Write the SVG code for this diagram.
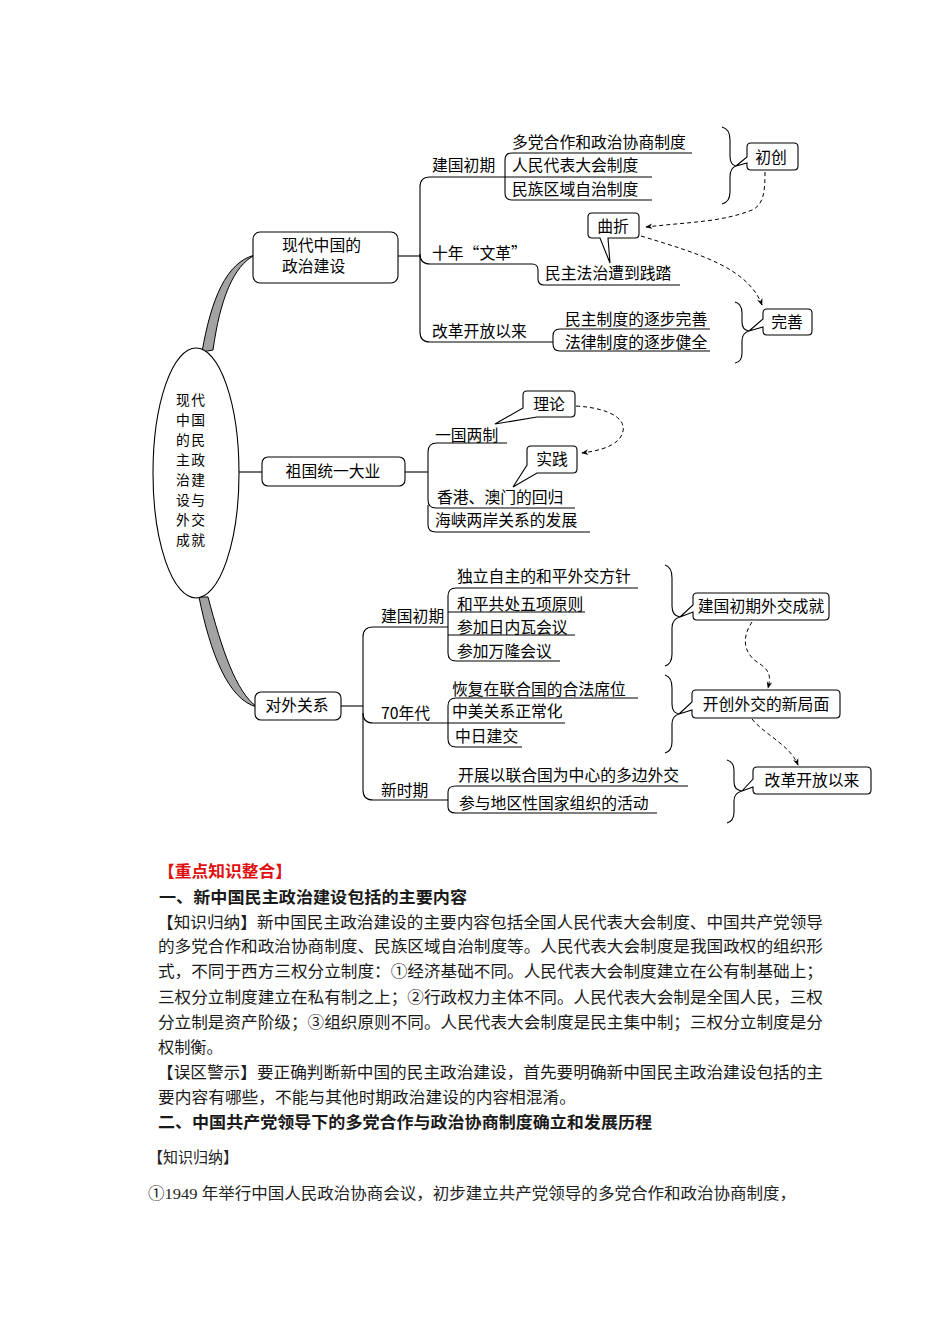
<svg xmlns="http://www.w3.org/2000/svg" width="950" height="1344" viewBox="0 0 950 1344">
<style>
.t{font-family:"Noto Sans CJK SC","Noto Sans",sans-serif;font-size:15.8px;fill:#000}
.e{font-family:"Noto Sans CJK SC","Noto Sans",sans-serif;font-size:13.8px;letter-spacing:1.4px;fill:#000}
.m{text-anchor:middle}
.ln{fill:none;stroke:#000;stroke-width:1.1}
.box{fill:#fff;stroke:#000;stroke-width:1.1}
.wedge{fill:#a3a3a3;stroke:#000;stroke-width:1}
.dash{fill:none;stroke:#000;stroke-width:1;stroke-dasharray:4 3}
.p{font-family:"Noto Sans CJK SC","Noto Sans",sans-serif;font-size:16.2px;fill:#1a1a1a}
.b{font-weight:bold}
.s{font-family:"Liberation Serif","Noto Sans CJK SC",serif;font-size:15.5px;fill:#222}
</style>
<defs>
<marker id="ah" viewBox="0 0 10 10" refX="9" refY="5" markerWidth="7" markerHeight="7" orient="auto">
<path d="M0,1 L10,5 L0,9 L3,5 Z" fill="#000"/>
</marker>
</defs>
<rect width="950" height="1344" fill="#fff"/>

<g id="connectors">
<path class="wedge" d="M202,352 C211,300 226,262 255,255 C233,266 220,300 213,350 Z"/>
<path class="wedge" d="M199,597 C210,652 228,700 257,707 C236,692 222,650 208,597 Z"/>
<line class="ln" x1="239" y1="472" x2="262" y2="472"/>

<line class="ln" x1="398" y1="256" x2="420" y2="256"/>
<path class="ln" d="M430,177 Q420,177 420,187 L420,332 Q420,342 430,342"/>
<path class="ln" d="M420,254 Q420,264 430,264"/>
<path class="ln" d="M430,177 L652,177"/>
<path class="ln" d="M692,153 L512,153 Q505,153 505,160 L505,193 Q505,200 512,200 L652,200"/>
<path class="ln" d="M430,264 L532,264 Q538,264 538,270 L538,279 Q538,285 544,285 L680,285"/>
<path class="ln" d="M430,342 L553,342"/>
<path class="ln" d="M710,329 L560,329 Q553,329 553,336 L553,344 Q553,351 560,351 L710,351"/>
<path class="ln" d="M722,127 Q730,129 730,140 L730,156 Q730,165 736,166 Q730,168 730,177 L730,192 Q730,202 722,204"/>
<path class="ln" d="M735,302 Q742,304 742,313 L742,322 Q742,330 749,331 Q742,333 742,341 L742,353 Q742,362 735,363"/>
<path class="dash" marker-end="url(#ah)" d="M765,172 C765,190 764,205 752,210 C722,222 690,222 646,227"/>
<path class="dash" marker-end="url(#ah)" d="M641,236 C700,254 748,268 762,305"/>

<line class="ln" x1="405" y1="472" x2="428" y2="472"/>
<path class="ln" d="M507,443 L437,443 Q428,443 428,452 L428,500 Q428,508 436,508 L575,508"/>
<path class="ln" d="M428,505 L428,525 Q428,532 436,532 L590,532"/>
<path class="dash" marker-end="url(#ah)" d="M576,406 C610,408 632,420 620,438 C612,448 596,451 582,453"/>

<line class="ln" x1="341" y1="706" x2="363" y2="706"/>
<path class="ln" d="M373,627 Q363,627 363,637 L363,790 Q363,800 373,800"/>
<path class="ln" d="M363,713 Q363,723 373,723 L565,723"/>
<path class="ln" d="M373,627 L448,627"/>
<path class="ln" d="M638,588 L456,588 Q448,588 448,596 L448,653 Q448,661 456,661 L560,661"/>
<path class="ln" d="M448,612 L585,612"/>
<path class="ln" d="M448,635 L575,635"/>
<path class="ln" d="M638,698 L456,698 Q448,698 448,706 L448,739 Q448,747 456,747 L522,747"/>
<path class="ln" d="M373,800 L448,800"/>
<path class="ln" d="M688,786 L456,786 Q448,786 448,792 L448,807 Q448,813 456,813 L657,813"/>
<path class="ln" d="M665,565 Q672,567 672,578 L672,606 Q672,616 680,617 Q672,619 672,628 L672,654 Q672,664 665,666"/>
<path class="ln" d="M665,675 Q672,677 672,688 L672,704 Q672,713 679,714 Q672,716 672,724 L672,742 Q672,751 665,753"/>
<path class="ln" d="M727,760 Q734,762 734,771 L734,782 Q734,790 742,791 Q734,793 734,801 L734,812 Q734,821 727,823"/>
<path class="dash" marker-end="url(#ah)" d="M752,622 C740,640 745,655 760,664 C772,672 770,680 768,688"/>
<path class="dash" marker-end="url(#ah)" d="M752,719 C765,735 790,745 798,765"/>
</g>

<g id="center">
<ellipse class="box" cx="196" cy="473" rx="43" ry="125"/>
<text class="e" x="176" y="405">现代</text>
<text class="e" x="176" y="425">中国</text>
<text class="e" x="176" y="445">的民</text>
<text class="e" x="176" y="465">主政</text>
<text class="e" x="176" y="485">治建</text>
<text class="e" x="176" y="505">设与</text>
<text class="e" x="176" y="525">外交</text>
<text class="e" x="176" y="545">成就</text>
</g>

<g id="politics">
<rect class="box" x="253" y="232" width="145" height="51" rx="7"/>
<text class="t"><tspan x="282" y="251">现代中国的</tspan><tspan x="282" y="272">政治建设</tspan></text>
</g>
<g id="p-early">
<text class="t" x="432" y="170.5">建国初期</text>
<text class="t" x="512" y="147.5">多党合作和政治协商制度</text>
<text class="t" x="512" y="170.5">人民代表大会制度</text>
<text class="t" x="512" y="194.5">民族区域自治制度</text>
</g>
<g id="p-chuchuang">
<path class="box" d="M751,143 H794 Q798,143 798,147 V166 Q798,170 794,170 H751 Q747,170 747,166 V163 L736,166 L747,157 V147 Q747,143 751,143 Z"/>
<text class="t m" x="771" y="162.5">初创</text>
</g>
<g id="p-wenge">
<text class="t" x="432" y="258.5">十年“文革”</text>
<text class="t" x="545" y="278.5">民主法治遭到践踏</text>
</g>
<g id="p-quzhe">
<path class="box" d="M592,213 H635 Q639,213 639,217 V234 Q639,238 635,238 H608 L610,263 L600,238 H592 Q588,238 588,234 V217 Q588,213 592,213 Z"/>
<text class="t m" x="613" y="231.5">曲折</text>
</g>
<g id="p-reform">
<text class="t" x="432" y="336.5">改革开放以来</text>
<text class="t" x="565" y="324.5">民主制度的逐步完善</text>
<text class="t" x="565" y="347.5">法律制度的逐步健全</text>
</g>
<g id="p-wanshan">
<path class="box" d="M767,309 H808 Q812,309 812,313 V331 Q812,335 808,335 H767 Q763,335 763,331 V327 L749,331 L763,319 V313 Q763,309 767,309 Z"/>
<text class="t m" x="787" y="327.5">完善</text>
</g>

<g id="reunification">
<rect class="box" x="262" y="457" width="143" height="29" rx="6"/>
<text class="t m" x="333" y="476.5">祖国统一大业</text>
</g>
<g id="u-items">
<text class="t" x="435" y="440.5">一国两制</text>
<text class="t" x="437" y="502.5">香港、澳门的回归</text>
<text class="t" x="435" y="525.5">海峡两岸关系的发展</text>
</g>
<g id="u-lilun">
<path class="box" d="M527,391 H571 Q575,391 575,395 V413 Q575,417 571,417 H537 L495,424 L523,408 V395 Q523,391 527,391 Z"/>
<text class="t m" x="549" y="409.5">理论</text>
</g>
<g id="u-shijian">
<path class="box" d="M531,446 H573 Q577,446 577,450 V469 Q577,473 573,473 H537 L513,487 L527,465 V450 Q527,446 531,446 Z"/>
<text class="t m" x="552" y="464.5">实践</text>
</g>

<g id="foreign">
<rect class="box" x="255" y="692" width="86" height="28" rx="6"/>
<text class="t m" x="297" y="710.5">对外关系</text>
</g>
<g id="f-early">
<text class="t" x="381" y="621.5">建国初期</text>
<text class="t" x="457" y="581.5">独立自主的和平外交方针</text>
<text class="t" x="457" y="609.5">和平共处五项原则</text>
<text class="t" x="457" y="632.5">参加日内瓦会议</text>
<text class="t" x="457" y="656.5">参加万隆会议</text>
</g>
<g id="f-early-box">
<path class="box" d="M697,593 H825 Q829,593 829,597 V616 Q829,620 825,620 H697 Q693,620 693,616 V612 L680,617 L693,605 V597 Q693,593 697,593 Z"/>
<text class="t m" x="761" y="612">建国初期外交成就</text>
</g>
<g id="f-70s">
<text class="t" x="381" y="718.5">70年代</text>
<text class="t" x="452" y="694.5">恢复在联合国的合法席位</text>
<text class="t" x="452" y="716.5">中美关系正常化</text>
<text class="t" x="455" y="741.5">中日建交</text>
</g>
<g id="f-70s-box">
<path class="box" d="M696,690 H836 Q840,690 840,694 V714 Q840,718 836,718 H696 Q692,718 692,714 V710 L679,714 L692,702 V694 Q692,690 696,690 Z"/>
<text class="t m" x="766" y="709.5">开创外交的新局面</text>
</g>
<g id="f-new">
<text class="t" x="381" y="795.5">新时期</text>
<text class="t" x="458" y="780.5">开展以联合国为中心的多边外交</text>
<text class="t" x="459" y="808.5">参与地区性国家组织的活动</text>
</g>
<g id="f-new-box">
<path class="box" d="M757,767 H867 Q871,767 871,771 V790 Q871,794 867,794 H757 Q753,794 753,790 V787 L742,791 L753,779 V771 Q753,767 757,767 Z"/>
<text class="t m" x="812" y="786">改革开放以来</text>
</g>

<g id="notes">
<text class="p b" x="158" y="877" style="fill:#e01010" textLength="134" lengthAdjust="spacingAndGlyphs">【重点知识整合】</text>
<text class="p b" x="159" y="903" textLength="308" lengthAdjust="spacingAndGlyphs">一、新中国民主政治建设包括的主要内容</text>
<text class="p" x="157" y="928" textLength="666" lengthAdjust="spacingAndGlyphs">【知识归纳】新中国民主政治建设的主要内容包括全国人民代表大会制度、中国共产党领导</text>
<text class="p" x="158" y="952" textLength="665" lengthAdjust="spacingAndGlyphs">的多党合作和政治协商制度、民族区域自治制度等。人民代表大会制度是我国政权的组织形</text>
<text class="p" x="158" y="977" textLength="665" lengthAdjust="spacingAndGlyphs">式，不同于西方三权分立制度：①经济基础不同。人民代表大会制度建立在公有制基础上；</text>
<text class="p" x="158" y="1003" textLength="665" lengthAdjust="spacingAndGlyphs">三权分立制度建立在私有制之上；②行政权力主体不同。人民代表大会制是全国人民，三权</text>
<text class="p" x="158" y="1028" textLength="665" lengthAdjust="spacingAndGlyphs">分立制是资产阶级；③组织原则不同。人民代表大会制度是民主集中制；三权分立制度是分</text>
<text class="p" x="158" y="1053">权制衡。</text>
<text class="p" x="157" y="1078" textLength="666" lengthAdjust="spacingAndGlyphs">【误区警示】要正确判断新中国的民主政治建设，首先要明确新中国民主政治建设包括的主</text>
<text class="p" x="158" y="1103" textLength="418" lengthAdjust="spacingAndGlyphs">要内容有哪些，不能与其他时期政治建设的内容相混淆。</text>
<text class="p b" x="158" y="1128" textLength="494" lengthAdjust="spacingAndGlyphs">二、中国共产党领导下的多党合作与政治协商制度确立和发展历程</text>
<text class="s" x="148" y="1163" textLength="90" lengthAdjust="spacingAndGlyphs">【知识归纳】</text>
<text class="s" x="148" y="1199" textLength="648" lengthAdjust="spacingAndGlyphs">①1949 年举行中国人民政治协商会议，初步建立共产党领导的多党合作和政治协商制度，</text>
</g>
</svg>
